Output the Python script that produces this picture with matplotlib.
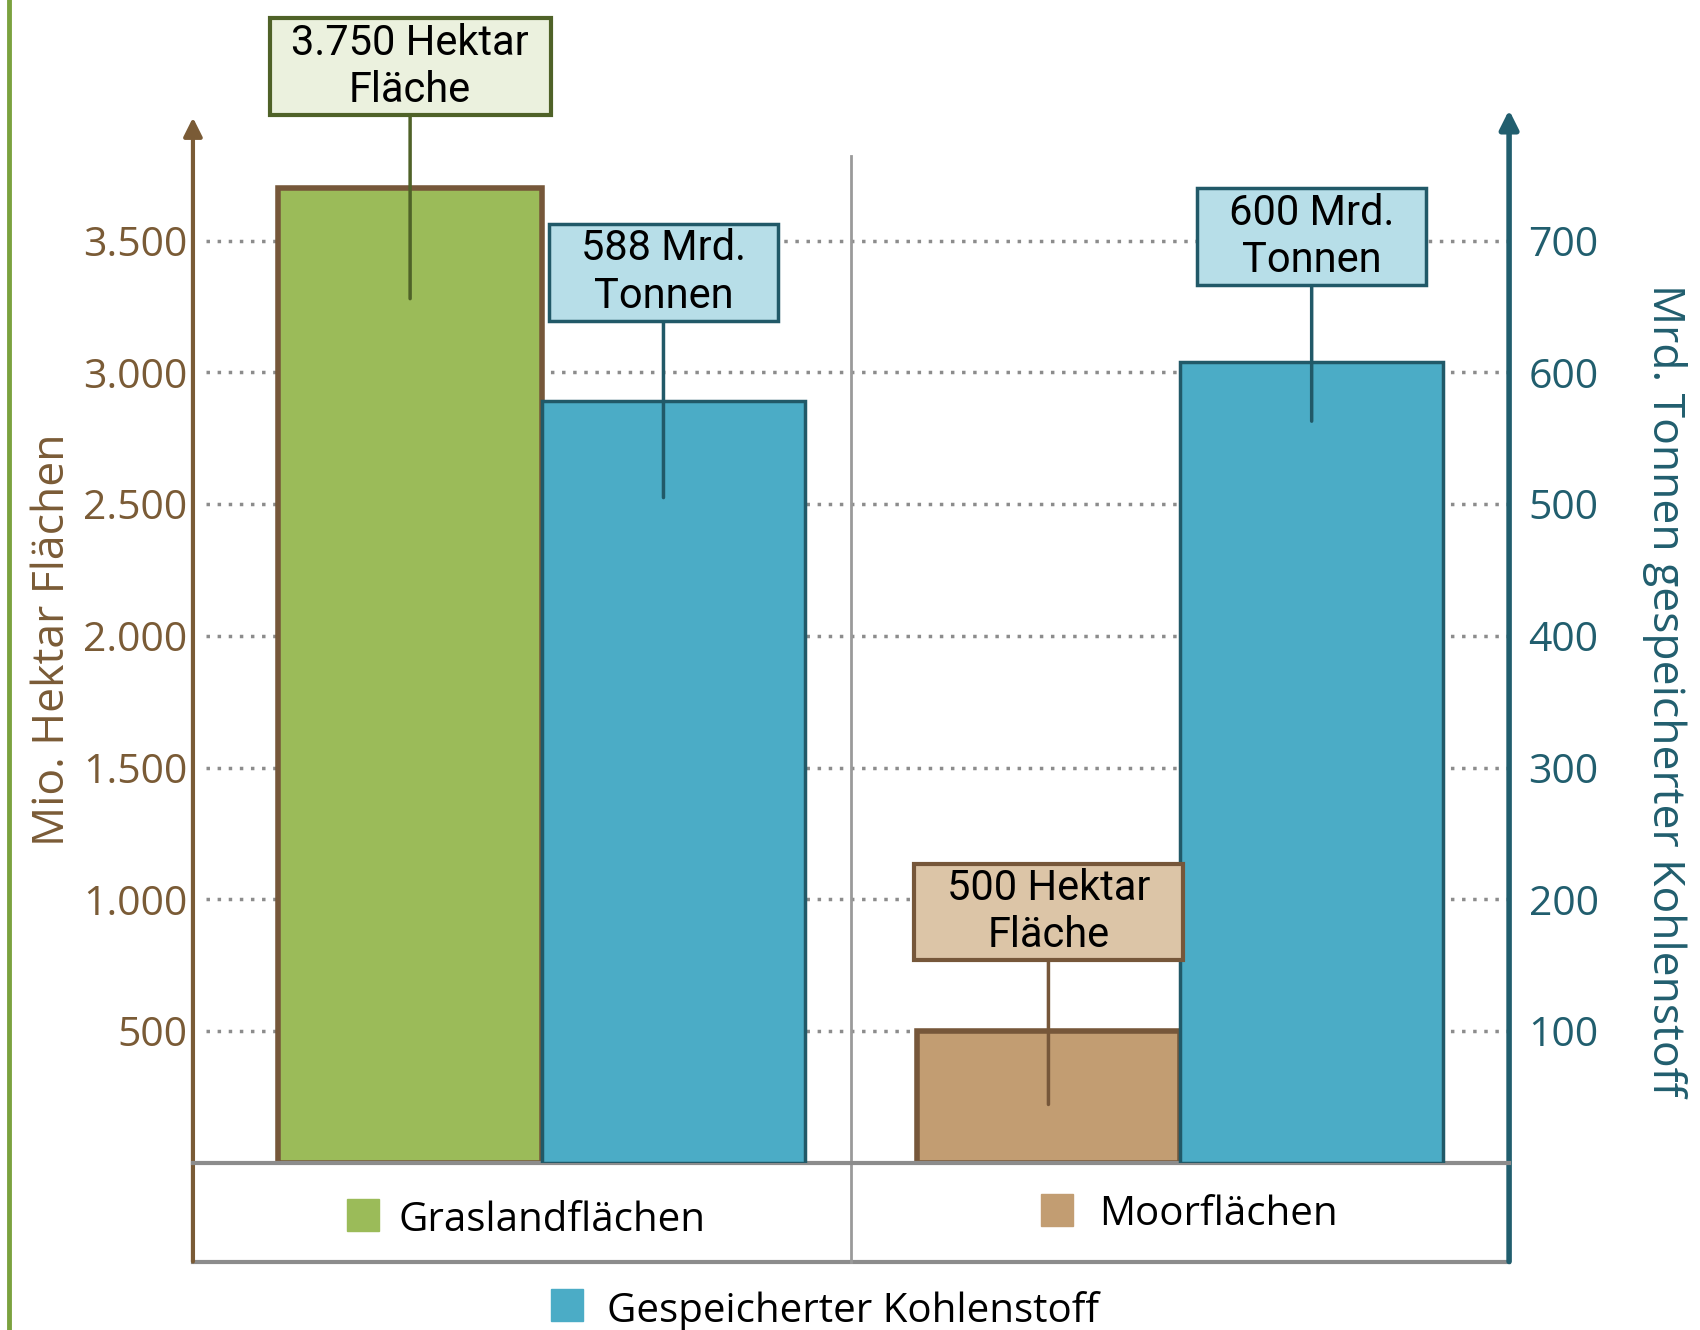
import numpy as np
import matplotlib.pyplot as plt
from matplotlib.lines import Line2D
from matplotlib.path import Path

# data
categories = ["Graslandflächen", "Moorflächen"]
area = [3700, 500]            # Mio. Hektar (left axis)
carbon = [578, 608]           # Mrd. Tonnen (right axis)
area_labels = ["3.750 Hektar\nFläche", "500 Hektar\nFläche"]
carbon_labels = ["588 Mrd.\nTonnen", "600 Mrd.\nTonnen"]
carbon_name = "Gespeicherter Kohlenstoff"

left_ticks = [500, 1000, 1500, 2000, 2500, 3000, 3500]
left_ticklabels = ["500", "1.000", "1.500", "2.000", "2.500", "3.000", "3.500"]
right_ticks = [100, 200, 300, 400, 500, 600, 700]
right_ticklabels = ["100", "200", "300", "400", "500", "600", "700"]

# colours
area_fill = ["#9BBB59", "#C29D72"]
area_edge = "#76573A"
area_box_fill = ["#EBF1DE", "#DCC5A7"]
area_box_edge = ["#4F6228", "#76573A"]
blue_fill = "#4BACC6"
blue_edge = "#215968"
blue_box = "#B7DEE8"
brown_axis = "#7A5B36"
teal_axis = "#215E6E"
grey = "#8C8C8C"


def rect_box(padx, pady):
    # square box with separate horizontal / vertical padding (fraction of font size)
    def style(x0, y0, width, height, mutation_size):
        px, py = padx * mutation_size, pady * mutation_size
        x1, y1 = x0 + width + px, y0 + height + py
        x0, y0 = x0 - px, y0 - py
        return Path([(x0, y0), (x1, y0), (x1, y1), (x0, y1), (x0, y0)], closed=True)
    return style


fig = plt.figure(figsize=(17, 13.3), dpi=100)
ax = fig.add_axes([0.1135, 0.1256, 0.7742, 0.7925])
ax2 = ax.twinx()
ax.set_xlim(0, 2)
ax.set_ylim(0, 4000)
ax2.set_ylim(0, 800)

group_x = np.array([0.53, 1.5])
w = 0.4
ax_x = group_x - w / 2
c_x = group_x + w / 2

# dotted grid
ax.hlines(left_ticks, 0.02, 2, colors=grey, linestyles=(0, (1, 2.2)), lw=2.5, zorder=1)

ax.bar(ax_x, area, width=w, color=area_fill, edgecolor=area_edge, lw=4, zorder=3)
ax2.bar(c_x, carbon, width=w, color=blue_fill, edgecolor=blue_edge, lw=2.5, zorder=3)

# annotation boxes: (box y, line end y, horizontal pad) in each axis' units
area_ann = [(4160, 3280, 0.52), (952, 222, 0.79)]
carbon_ann = [(676, 505, 0.77), (703, 563, 0.77)]
for i in range(2):
    by, ty, pd = area_ann[i]
    ax2.annotate(area_labels[i], xy=(ax_x[i], ty), xycoords=ax.transData,
                 xytext=(ax_x[i], by), textcoords=ax.transData,
                 ha="center", va="center", fontsize=30, family="Roboto",
                 linespacing=1.2, annotation_clip=False, zorder=5,
                 bbox=dict(boxstyle=rect_box(pd, 0.1), fc=area_box_fill[i],
                           ec=area_box_edge[i], lw=3),
                 arrowprops=dict(arrowstyle="-", color=area_box_edge[i], lw=2.5,
                                 shrinkA=0, shrinkB=0))
    by, ty, pd = carbon_ann[i]
    ax2.annotate(carbon_labels[i], xy=(c_x[i] - 0.015 * (1 - i), ty),
                 xytext=(c_x[i] - 0.015 * (1 - i), by),
                 ha="center", va="center", fontsize=30, family="Roboto",
                 linespacing=1.2, annotation_clip=False, zorder=5,
                 bbox=dict(boxstyle=rect_box(pd, 0.1), fc=blue_box, ec=blue_edge, lw=2.5),
                 arrowprops=dict(arrowstyle="-", color=blue_edge, lw=2.5,
                                 shrinkA=0, shrinkB=0))

# axes lines with arrows, category table
table_bottom = -374
for s in ax.spines.values():
    s.set_visible(False)
for s in ax2.spines.values():
    s.set_visible(False)
ax.plot([0, 2], [0, 0], color=grey, lw=3, clip_on=False, zorder=4)
ax.plot([0, 2], [table_bottom, table_bottom], color=grey, lw=3, clip_on=False)
ax.plot([1, 1], [table_bottom, 3823], color="#9A9A9A", lw=2, clip_on=False, zorder=2)
ax.annotate("", xy=(0, 3967), xytext=(0, table_bottom), annotation_clip=False,
            arrowprops=dict(arrowstyle="-|>", color=brown_axis, lw=3, mutation_scale=28,
                            shrinkA=0, shrinkB=0))
ax.annotate("", xy=(2, 3996), xytext=(2, table_bottom), annotation_clip=False,
            arrowprops=dict(arrowstyle="-|>", color=teal_axis, lw=4, mutation_scale=28,
                            shrinkA=0, shrinkB=0))

ax.set_xticks([])
ax.set_yticks(left_ticks, left_ticklabels)
ax2.set_yticks(right_ticks, right_ticklabels)
ax.tick_params(axis="y", length=0, pad=4, labelsize=29.5, labelcolor=brown_axis)
ax2.tick_params(axis="y", length=0, pad=14, labelsize=29.5, labelcolor=teal_axis)
for t in ax.get_yticklabels() + ax2.get_yticklabels():
    t.set_family("Open Sans")

fig.text(0.031, 0.519, "Mio. Hektar Flächen", rotation=90, ha="center", va="center",
         fontsize=32, color=brown_axis, family="Open Sans")
fig.text(0.979, 0.481, "Mrd. Tonnen gespeicherter Kohlenstoff", rotation=270,
         ha="center", va="center", fontsize=32, color=teal_axis, family="Open Sans")

# category legends in the table
leg_pos = [(0.259, -198, 0.313), (1.313, -177, 1.377)]
for i, (mx, my, tx) in enumerate(leg_pos):
    ax.plot(mx, my, marker="s", ms=23, color=area_fill[i], clip_on=False)
    ax.text(tx, my - 20, categories[i], va="center", ha="left", fontsize=29,
            family="Open Sans", clip_on=False)
ax.plot(0.568, -539, marker="s", ms=23, color=blue_fill, clip_on=False)
ax.text(0.629, -562, carbon_name, va="center", ha="left", fontsize=29,
        family="Open Sans", clip_on=False)

# green frame line at left edge
fig.add_artist(Line2D([0.005, 0.005], [0, 1], transform=fig.transFigure,
                      color="#7BA23F", lw=3.5))

fig.savefig("out.png", dpi=100)
